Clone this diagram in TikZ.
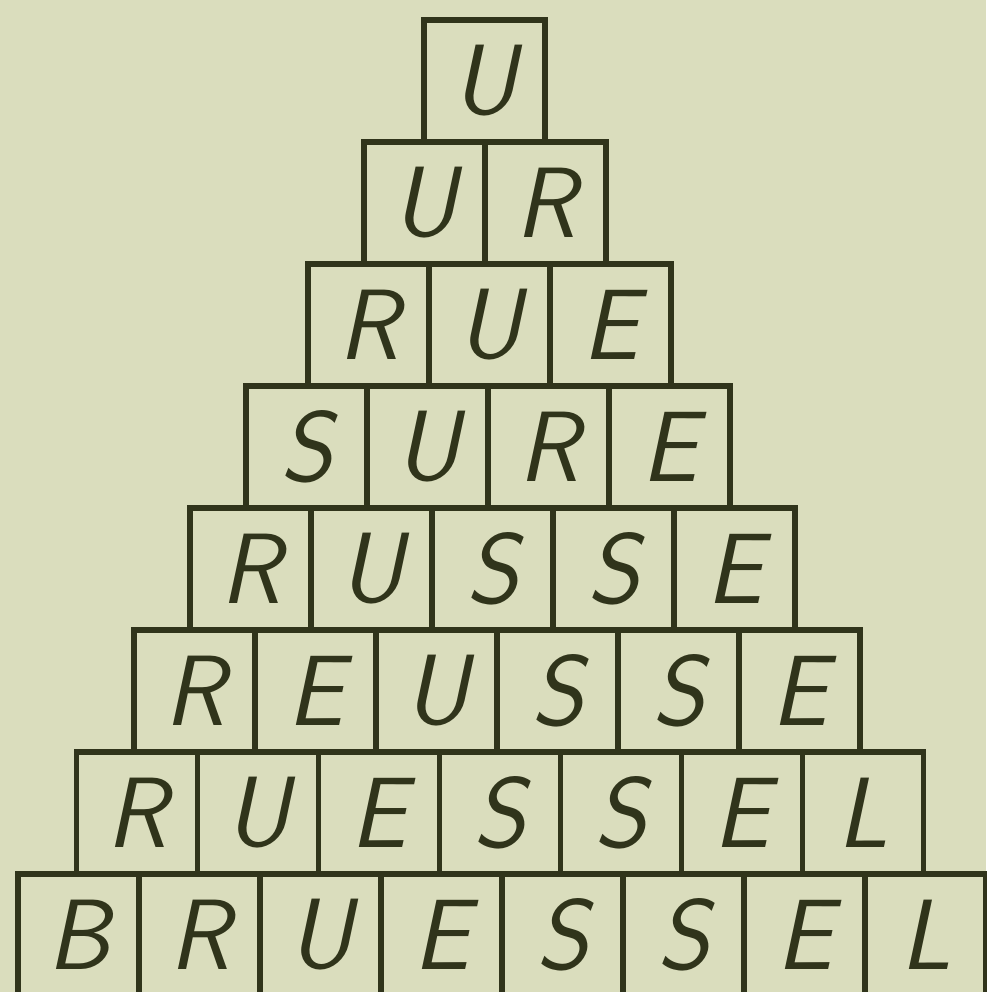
\documentclass[tikz,border=0pt]{standalone}
\usepackage{tikz}
\definecolor{paper}{RGB}{218,221,189}
\definecolor{ink}{RGB}{48,52,27}
\tikzset{
  blok/.style={draw=ink, line width=5.5pt, minimum width=121pt, minimum height=122pt,
    inner sep=0pt, text=ink, font=\fontsize{100}{100}\selectfont\sffamily\itshape}
}

\begin{document}
\begin{tikzpicture}[x=1pt,y=-1pt]
\fill[paper] (0,0) rectangle (986,992);
\useasboundingbox (0,0) rectangle (986,992);
% row 1
\node[blok] (b11) at (484.5,81) {U};
% row 2
\node[blok] (b21) at (424.5,203) {U};
\node[blok] (b22) at (545.5,203) {R};
% row 3
\node[blok] (b31) at (368.5,325) {R};
\node[blok] (b32) at (489.5,325) {U};
\node[blok] (b33) at (610.5,325) {E};
% row 4
\node[blok] (b41) at (306.5,447) {S};
\node[blok] (b42) at (427.5,447) {U};
\node[blok] (b43) at (548.5,447) {R};
\node[blok] (b44) at (669.5,447) {E};
% row 5
\node[blok] (b51) at (250.5,569) {R};
\node[blok] (b52) at (371.5,569) {U};
\node[blok] (b53) at (492.5,569) {S};
\node[blok] (b54) at (613.5,569) {S};
\node[blok] (b55) at (734.5,569) {E};
% row 6
\node[blok] (b61) at (194.5,691) {R};
\node[blok] (b62) at (315.5,691) {E};
\node[blok] (b63) at (436.5,691) {U};
\node[blok] (b64) at (557.5,691) {S};
\node[blok] (b65) at (678.5,691) {S};
\node[blok] (b66) at (799.5,691) {E};
% row 7
\node[blok] (b71) at (137,813) {R};
\node[blok] (b72) at (258,813) {U};
\node[blok] (b73) at (379,813) {E};
\node[blok] (b74) at (500,813) {S};
\node[blok] (b75) at (621,813) {S};
\node[blok] (b76) at (742,813) {E};
\node[blok] (b77) at (863,813) {L};
% row 8
\node[blok] (b81) at (78.5,935) {B};
\node[blok] (b82) at (199.5,935) {R};
\node[blok] (b83) at (320.5,935) {U};
\node[blok] (b84) at (441.5,935) {E};
\node[blok] (b85) at (562.5,935) {S};
\node[blok] (b86) at (683.5,935) {S};
\node[blok] (b87) at (804.5,935) {E};
\node[blok] (b88) at (925.5,935) {L};
\end{tikzpicture}
\end{document}
